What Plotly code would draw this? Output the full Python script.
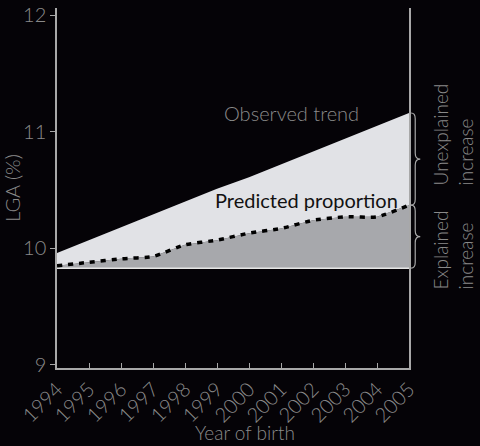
import plotly.graph_objects as go

years = [1994, 1995, 1996, 1997, 1998, 1999, 2000, 2001, 2002, 2003, 2004, 2005]
observed_trend = [9.96, 10.07, 10.18, 10.29, 10.40, 10.51, 10.61, 10.72, 10.83, 10.94, 11.05, 11.16]
predicted = [9.85, 9.88, 9.91, 9.93, 10.03, 10.07, 10.13, 10.17, 10.24, 10.27, 10.27, 10.37]
baseline = 9.83
year_labels = [str(y) for y in years]
y_ticks = [9, 10, 11, 12]

BG = "#050307"
AX = "#a8a8a8"
TXT = "#8a8a8a"
FONT = "Lato"
W = 300

fig = go.Figure()
fig.add_trace(go.Scatter(x=years, y=[baseline] * len(years), mode="lines",
                         line=dict(color="#e6e6e6", width=1.5), hoverinfo="skip"))
fig.add_trace(go.Scatter(x=years, y=predicted, mode="lines", fill="tonexty",
                         fillcolor="#a7a8ac", line=dict(width=0), hoverinfo="skip"))
fig.add_trace(go.Scatter(x=years, y=observed_trend, mode="lines", fill="tonexty",
                         fillcolor="#e1e2e6", line=dict(width=0), hoverinfo="skip"))
fig.add_trace(go.Scatter(x=years, y=predicted, mode="lines",
                         line=dict(color="#000000", width=3.5, dash="5px,6px", shape="spline", smoothing=0.6),
                         hoverinfo="skip"))


def brace(y0, y1, x0=1.006, w=0.026, r=0.05):
    xa, xb, xc = x0, x0 + w * 0.45, x0 + w
    ym = (y0 + y1) / 2
    return (f"M {xa},{y1} Q {xb},{y1} {xb},{y1 - r} L {xb},{ym + r} "
            f"Q {xb},{ym} {xc},{ym} Q {xb},{ym} {xb},{ym - r} "
            f"L {xb},{y0 + r} Q {xb},{y0} {xa},{y0}")


for lo, hi in [(predicted[-1], observed_trend[-1]), (baseline, predicted[-1])]:
    fig.add_shape(type="path", xref="paper", yref="y", path=brace(lo, hi),
                  line=dict(color=AX, width=1.2))


def f(size, color=TXT, weight=W):
    return dict(family=FONT, size=size, color=color, weight=weight)


fig.add_annotation(x=2001.34, y=11.16, text="Observed trend", showarrow=False, font=f(20))
fig.add_annotation(x=2001.81, y=10.41, text="Predicted proportion", showarrow=False,
                   font=f(20, "#111111", 400))
fig.add_annotation(x=1.2, xref="paper", y=10.98, text="Unexplained<br>increase",
                   showarrow=False, textangle=-90, align="left", font=f(19))
fig.add_annotation(x=1.2, xref="paper", y=9.985, text="Explained<br>increase",
                   showarrow=False, textangle=-90, align="left", font=f(19))
fig.add_annotation(x=0.534, xref="paper", y=-0.18, yref="paper", yanchor="middle",
                   text="Year of birth", showarrow=False, font=f(19))

fig.update_layout(
    width=480, height=446,
    margin=dict(l=57, r=71, t=8, b=78, autoexpand=False),
    paper_bgcolor=BG, plot_bgcolor=BG,
    showlegend=False,
    font=dict(family=FONT, color=TXT),
    xaxis=dict(range=[1994, 2005], tickvals=years, ticktext=year_labels,
               tickangle=-45, ticks="inside", ticklen=5, tickcolor=AX,
               showline=True, linecolor=AX, linewidth=1.5, showgrid=False,
               zeroline=False, automargin=False, tickfont=f(20)),
    yaxis=dict(range=[8.974, 12.06], tickvals=y_ticks, ticks="outside",
               ticklen=5, tickcolor=AX, showline=True, linecolor=AX,
               linewidth=1.5, mirror=True, showgrid=False, zeroline=False,
               automargin=False,
               title=dict(text="LGA (%)", font=f(20), standoff=6),
               tickfont=f(20)),
)

fig.write_html("out.html", config={"displayModeBar": False},
               post_script="document.body.style.margin='0';document.body.style.background='#050307';")
